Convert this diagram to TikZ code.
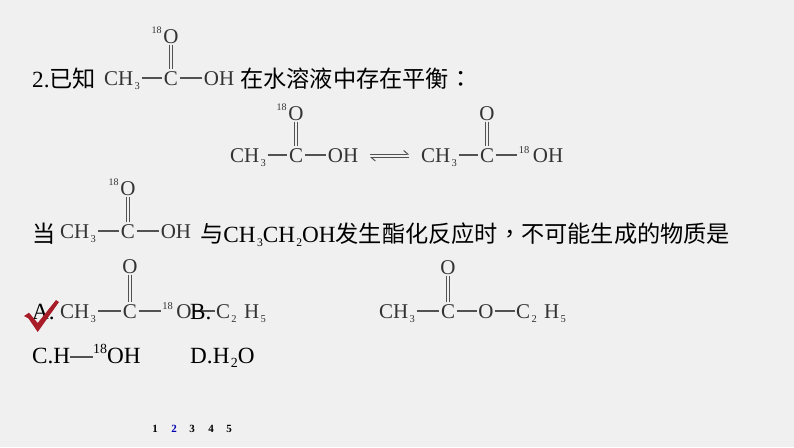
\documentclass[tikz,border=0pt]{standalone}
\usepackage{fontspec}
\setmainfont{Liberation Serif}
\newfontfamily\cjk{Noto Sans CJK SC}
\newfontfamily\cjkp{Noto Sans CJK TC}
\usetikzlibrary{arrows.meta}
\definecolor{slidebg}{HTML}{F0F0F0}
\definecolor{chemgray}{HTML}{333333}
\definecolor{tickred}{HTML}{A81C28}
\newcommand{\chsub}[2][.5em]{\hspace{.06em}\raisebox{-.2em}{\fontsize{#1}{#1}\selectfont #2}}
\newcommand{\chsup}[2][.5em]{\raisebox{.42em}{\fontsize{#1}{#1}\selectfont #2}}
\tikzset{
  atom/.style = {inner xsep = 1.5pt, inner ysep = 1.5pt, text height = 14pt, text depth = 0pt,
                 text = chemgray, font = \fontsize{21}{21}\selectfont},
  bond/.style = {color = chemgray!85, line width = 1.2pt},
  isotope/.style = {text = chemgray, font = \fontsize{10}{10}\selectfont, inner sep = 0pt, yshift = 6pt},
  line/.style = {anchor = base west, inner sep = 0pt, font = \fontsize{23.2}{23.2}\selectfont},
  pagenum/.style = {inner sep = 0pt, font = \fontsize{11}{11}\selectfont\bfseries},
  left bond/.style = {bond, line width = 1pt, transform canvas = {xshift = -1.2pt}},
  right bond/.style = {bond, line width = 1pt, transform canvas = {xshift = 1.2pt}}
}
\begin{document}
\begin{tikzpicture}[x = 1pt, y = -1pt]
        \useasboundingbox (0,0) rectangle (794,447);
        \fill[slidebg] (0,0) rectangle (794,447);
        % first line
        \node[line] (t1) at (32,87) {2.{\cjk 已知}};
        \node[line] (t2) at (240,87) {\cjk 在水溶液中存在平衡{\cjkp ：}};
        \node[atom] (ch1) at (122,78) {CH\chsub{3}};
        \node[atom] (c1) at (171,78) {C};
        \node[atom, label = {[isotope]left:18}] (o1) at (171,36) {O};
        \node[atom] (oh1) at (219,78) {OH};
        \draw[bond] (ch1) -- (c1);
        \draw[bond] (c1) -- (oh1);
        \draw[left bond] (o1) -- (c1);
        \draw[right bond] (o1) -- (c1);
        % equilibrium
        \node[atom] (ch2) at (248,155) {CH\chsub{3}};
        \node[atom] (c2) at (296,155) {C};
        \node[atom, label = {[isotope]left:18}] (o2) at (296,113) {O};
        \node[atom] (oh2) at (343,155) {OH};
        \draw[bond] (ch2) -- (c2);
        \draw[bond] (c2) -- (oh2);
        \draw[left bond] (o2) -- (c2);
        \draw[right bond] (o2) -- (c2);
        \coordinate (eqa) at (370,154);
        \coordinate (eqb) at (409,154);
        \coordinate (eqc) at (370,157.5);
        \coordinate (eqd) at (409,157.5);
        \draw[bond, line width = 1pt, -{Straight Barb[harpoon, length = 4pt, width = 7pt]}] (eqa) -- (eqb);
        \draw[bond, line width = 1pt, -{Straight Barb[harpoon, length = 4pt, width = 7pt]}] (eqd) -- (eqc);
        \node[atom] (ch3) at (439,155) {CH\chsub{3}};
        \node[atom] (c3) at (487,155) {C};
        \node[atom] (o3) at (487,113) {O};
        \node[atom] (oh3) at (541,155) {\chsup{18}\,OH};
        \draw[bond] (ch3) -- (c3);
        \draw[bond] (c3) -- (oh3);
        \draw[left bond] (o3) -- (c3);
        \draw[right bond] (o3) -- (c3);
        % third line
        \node[line] (t3) at (32,242) {\cjk 当};
        \node[line] (t4) at (200,242) {{\cjk 与}CH\chsub{3}CH\chsub{2}OH{\cjk 发生酯化反应时{\cjkp ，}不可能生成的物质是}};
        \node[atom] (ch4) at (78,231) {CH\chsub{3}};
        \node[atom] (c4) at (128,231) {C};
        \node[atom, label = {[isotope]left:18}] (o4) at (128,188) {O};
        \node[atom] (oh4) at (176,231) {OH};
        \draw[bond] (ch4) -- (c4);
        \draw[bond] (c4) -- (oh4);
        \draw[left bond] (o4) -- (c4);
        \draw[right bond] (o4) -- (c4);
        % answers
        \node[atom] (ch5) at (78,311) {CH\chsub{3}};
        \node[atom] (c5) at (130,311) {C};
        \node[atom] (o5) at (130,266) {O};
        \node[atom] (oe5) at (177,311) {\chsup{18}\,O};
        \node[atom] (et5) at (241,311) {C\chsub{2}\hspace{.1em} H\chsub{5}};
        \draw[bond] (ch5) -- (c5);
        \draw[bond] (c5) -- (oe5);
        \draw[bond] (oe5) -- (et5);
        \draw[left bond] (o5) -- (c5);
        \draw[right bond] (o5) -- (c5);
        \node[line] (a) at (32,319) {A.};
        \node[line] (b) at (190,319) {B.};
        \node[atom] (ch6) at (397,311) {CH\chsub{3}};
        \node[atom] (c6) at (448,311) {C};
        \node[atom] (o6) at (448,267) {O};
        \node[atom] (oe6) at (486,311) {O};
        \node[atom] (et6) at (541,311) {C\chsub{2}\hspace{.1em} H\chsub{5}};
        \draw[bond] (ch6) -- (c6);
        \draw[bond] (c6) -- (oe6);
        \draw[bond] (oe6) -- (et6);
        \draw[left bond] (o6) -- (c6);
        \draw[right bond] (o6) -- (c6);
        \node[line] (cc) at (32,363) {C.H};
        \node[line] (cd) at (93,363) {\chsup[.6em]{18}OH};
        \draw[bond] (cc.east |- 0,357) -- (cd.west |- 0,357);
        \node[line] (d) at (190,363) {D.H\chsub[.6em]{2}O};
        % tick
        \fill[tickred] (24,316) -- (29,312.7) -- (37.7,323) -- (56,300) -- (59,302) -- (37.7,332) -- (28.5,318.5) -- cycle;
        % pages
        \node[pagenum] (p1) at (155,429) {1};
        \node[pagenum, text = blue!70!black] (p2) at (174,429) {2};
        \node[pagenum] (p3) at (192,429) {3};
        \node[pagenum] (p4) at (211,429) {4};
        \node[pagenum] (p5) at (229,429) {5};
      \end{tikzpicture}
\end{document}
